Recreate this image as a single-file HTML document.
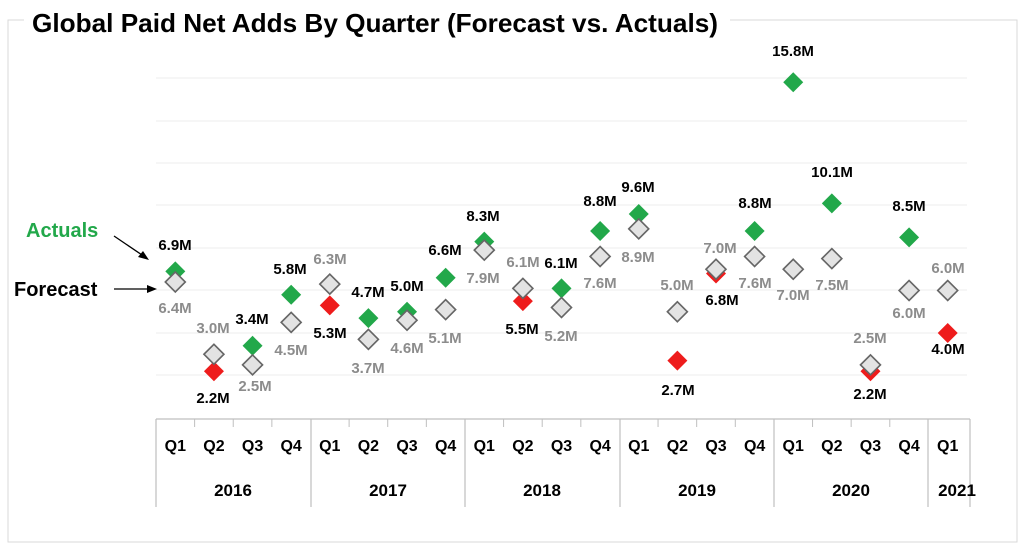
<!DOCTYPE html>
<html><head><meta charset="utf-8"><style>
html,body{margin:0;padding:0;background:#fff;}
svg{display:block;font-family:"Liberation Sans",sans-serif;}
</style></head><body>
<svg width="1024" height="546" viewBox="0 0 1024 546" xmlns="http://www.w3.org/2000/svg">
<rect x="8" y="20" width="1009" height="522" fill="#fff" stroke="#d9d9d9" stroke-width="1"/>
<rect x="24" y="4" width="706" height="32" fill="#fff"/>
<text x="32" y="32" font-size="26" font-weight="bold" fill="#000" textLength="686" lengthAdjust="spacingAndGlyphs">Global Paid Net Adds By Quarter (Forecast vs. Actuals)</text>
<g stroke="#eeeeee" stroke-width="1">
<line x1="156" x2="967" y1="78" y2="78"/><line x1="156" x2="967" y1="121" y2="121"/>
<line x1="156" x2="967" y1="163" y2="163"/><line x1="156" x2="967" y1="205" y2="205"/>
<line x1="156" x2="967" y1="248" y2="248"/><line x1="156" x2="967" y1="290" y2="290"/>
<line x1="156" x2="967" y1="333" y2="333"/><line x1="156" x2="967" y1="375" y2="375"/>
</g>
<g stroke="#bfbfbf" stroke-width="1.2">
<line x1="156" x2="970" y1="419" y2="419"/>
<line x1="156" x2="156" y1="419" y2="507"/>
<line x1="311" x2="311" y1="419" y2="507"/>
<line x1="465" x2="465" y1="419" y2="507"/>
<line x1="620" x2="620" y1="419" y2="507"/>
<line x1="774" x2="774" y1="419" y2="507"/>
<line x1="928" x2="928" y1="419" y2="507"/>
<line x1="970" x2="970" y1="419" y2="507"/>
</g>
<g stroke="#bfbfbf" stroke-width="1" id="ticks"></g>
<g id="qlab" font-size="16" font-weight="bold" fill="#000" text-anchor="middle"></g>
<g font-size="17" font-weight="bold" fill="#000" text-anchor="middle">
<text x="233" y="496">2016</text><text x="388" y="496">2017</text><text x="542" y="496">2018</text>
<text x="697" y="496">2019</text><text x="851" y="496">2020</text><text x="957" y="496">2021</text>
</g>
<text x="26" y="237" font-size="20" font-weight="bold" fill="#22a84a">Actuals</text>
<text x="14" y="296" font-size="20" font-weight="bold" fill="#000">Forecast</text>
<line x1="114" y1="236" x2="145" y2="257" stroke="#000" stroke-width="1.3"/>
<polygon points="149,260 138,257 143,251" fill="#000"/>
<line x1="114" y1="289" x2="150" y2="289" stroke="#000" stroke-width="1.3"/>
<polygon points="157,289 147,285 147,293" fill="#000"/>
<g id="pts"></g>
<g id="labs" font-size="15" font-weight="bold"></g>
<script>
var NS="http://www.w3.org/2000/svg";
function el(p,t,a,txt){var e=document.createElementNS(NS,t);for(var k in a)e.setAttribute(k,a[k]);if(txt)e.textContent=txt;document.getElementById(p).appendChild(e);}
var x0=156,st=38.62;
for(var i=0;i<21;i++){var cx=x0+st*(i+0.5);el('qlab','text',{x:cx,y:451},'Q'+(i%4+1));if(i%4!=0)el('ticks','line',{x1:x0+st*i,x2:x0+st*i,y1:419,y2:427});}
function Y(v){return 418-v*21.25;}
var d=[[6.9,'g',6.4],[2.2,'r',3.0],[3.4,'g',2.5],[5.8,'g',4.5],[5.3,'r',6.3],[4.7,'g',3.7],[5.0,'g',4.6],[6.6,'g',5.1],[8.3,'g',7.9],[5.5,'r',6.1],[6.1,'g',5.2],[8.8,'g',7.6],[9.6,'g',8.9],[2.7,'r',5.0],[6.8,'r',7.0],[8.8,'g',7.6],[15.8,'g',7.0],[10.1,'g',7.5],[2.2,'r',2.5],[8.5,'g',6.0],[4.0,'r',6.0]];
function dia(cx,cy,f,s){el('pts','polygon',{points:(cx-10)+','+cy+' '+cx+','+(cy-10)+' '+(cx+10)+','+cy+' '+cx+','+(cy+10),fill:f,stroke:s,'stroke-width':s=='none'?0:1.6});}
d.forEach(function(r,i){var cx=x0+st*(i+0.5);dia(cx,Y(r[0]),r[1]=='g'?'#22a84a':'#ee1c1c','none');});
d.forEach(function(r,i){var cx=x0+st*(i+0.5);dia(cx,Y(r[2]),'#e3e3e3','#666');});
var A=[[175,250,'6.9M'],[213,403,'2.2M'],[252,324,'3.4M'],[290,274,'5.8M'],[330,338,'5.3M'],[368,297,'4.7M'],[407,291,'5.0M'],[445,255,'6.6M'],[483,221,'8.3M'],[522,334,'5.5M'],[561,268,'6.1M'],[600,206,'8.8M'],[638,192,'9.6M'],[678,395,'2.7M'],[722,305,'6.8M'],[755,208,'8.8M'],[793,56,'15.8M'],[832,177,'10.1M'],[870,399,'2.2M'],[909,211,'8.5M'],[948,354,'4.0M']];
var F=[[175,313,'6.4M'],[213,333,'3.0M'],[255,391,'2.5M'],[291,355,'4.5M'],[330,264,'6.3M'],[368,373,'3.7M'],[407,353,'4.6M'],[445,343,'5.1M'],[483,283,'7.9M'],[523,267,'6.1M'],[561,341,'5.2M'],[600,288,'7.6M'],[638,262,'8.9M'],[677,290,'5.0M'],[720,253,'7.0M'],[755,288,'7.6M'],[793,300,'7.0M'],[832,290,'7.5M'],[870,343,'2.5M'],[909,318,'6.0M'],[948,273,'6.0M']];
A.forEach(function(a){el('labs','text',{x:a[0],y:a[1],'text-anchor':'middle',fill:'#000'},a[2]);});
F.forEach(function(a){el('labs','text',{x:a[0],y:a[1],'text-anchor':'middle',fill:'#8c8c8c'},a[2]);});
</script>
</svg>
</body></html>
